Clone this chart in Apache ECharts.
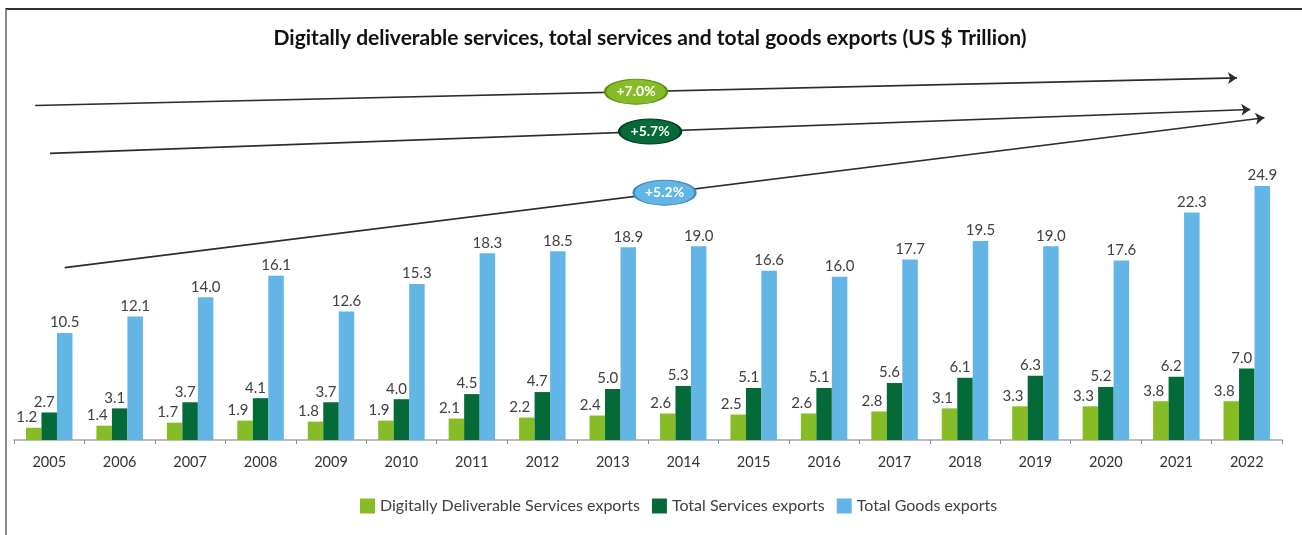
<!DOCTYPE html>
<html>
<head>
<meta charset="utf-8">
<title>Digitally deliverable services, total services and total goods exports</title>
<script src="https://cdn.jsdelivr.net/npm/echarts@6/dist/echarts.min.js"></script>
<style>
  html, body { margin: 0; padding: 0; background: #fff; overflow: hidden; }
  #chart { position: absolute; left: 0; top: 0; width: 1302px; height: 535px; }
  #frame {
    position: absolute; left: 5px; top: 8px; width: 1400px; height: 600px;
    border-top: 2px solid #2f2f2f; border-left: 2px solid #8a8a8a;
    pointer-events: none;
  }
</style>
</head>
<body>
<div id="chart"></div>
<div id="frame"></div>
<script>
// Export values, US $ trillion
const years = ['2005', '2006', '2007', '2008', '2009', '2010', '2011', '2012', '2013',
               '2014', '2015', '2016', '2017', '2018', '2019', '2020', '2021', '2022'];
const digitalServices = [1.2, 1.4, 1.7, 1.9, 1.8, 1.9, 2.1, 2.2, 2.4, 2.6, 2.5, 2.6, 2.8, 3.1, 3.3, 3.3, 3.8, 3.8];
const totalServices   = [2.7, 3.1, 3.7, 4.1, 3.7, 4.0, 4.5, 4.7, 5.0, 5.3, 5.1, 5.1, 5.6, 6.1, 6.3, 5.2, 6.2, 7.0];
const totalGoods      = [10.5, 12.1, 14.0, 16.1, 12.6, 15.3, 18.3, 18.5, 18.9, 19.0, 16.6, 16.0, 17.7, 19.5, 19.0, 17.6, 22.3, 24.9];
const seriesNames = ['Digitally Deliverable Services exports', 'Total Services exports', 'Total Goods exports'];

// Growth rates shown on the trend arrows
const growthLabels = ['+7.0%', '+5.7%', '+5.2%'];

// Trend arrow ends, in axis units (x: category index, y: US $ trillion)
const arrowFrom = [[-0.2, 32.8], [0.01, 28.1], [0.22, 16.9]];
const arrowTo   = [[16.86, 35.5], [17.05, 32.4], [17.25, 31.6]];

const colors = ['#86BC25', '#046A38', '#62B5E5'];
const badgeBorders = ['#5f8a19', '#023a1f', '#3a8cbf'];
const FONT = 'Lato, "Open Sans", sans-serif';

const chart = echarts.init(document.getElementById('chart'), null, { renderer: 'canvas' });

function barSeries(idx, values, dx) {
  return {
    name: seriesNames[idx],
    type: 'bar',
    data: values,
    barGap: '0%',
    barCategoryGap: '34%',
    itemStyle: { color: colors[idx] },
    label: {
      show: true,
      position: 'top',
      distance: 3,
      offset: [dx, 0],
      color: '#404040',
      fontFamily: FONT,
      fontSize: 15,
      formatter: p => p.value.toFixed(1)
    },
    z: 2
  };
}

const arrowData = arrowFrom.map((a, i) => ({ coords: [a, arrowTo[i]] }));
const badgeData = arrowFrom.map((a, i) => ({
  value: [(a[0] + arrowTo[i][0]) / 2, (a[1] + arrowTo[i][1]) / 2],
  name: growthLabels[i],
  itemStyle: { color: colors[i], borderColor: badgeBorders[i] }
}));

chart.setOption({
  animation: false,
  title: {
    text: 'Digitally deliverable services, total services and total goods exports (US $ Trillion)',
    left: 645,
    textAlign: 'center',
    top: 23,
    textStyle: { fontFamily: FONT, fontWeight: 'bold', fontSize: 21, color: '#111' }
  },
  legend: {
    data: seriesNames,
    left: 355,
    top: 493,
    icon: 'rect',
    itemWidth: 15,
    itemHeight: 15,
    itemGap: 12,
    textStyle: { fontFamily: FONT, fontSize: 16, color: '#404040' }
  },
  grid: { left: 14, right: 20, top: 32, bottom: 95, containLabel: false },
  xAxis: [
    {
      type: 'category',
      data: years,
      axisLine: { lineStyle: { color: '#a6a6a6', width: 1.5 } },
      axisTick: { show: true, interval: 0, length: 4, lineStyle: { color: '#8c8c8c' } },
      axisLabel: { interval: 0, margin: 15, color: '#333', fontFamily: FONT, fontSize: 14.5 }
    },
    { type: 'value', min: -0.5, max: 17.5, show: false }
  ],
  yAxis: { type: 'value', min: 0, max: 40, show: false },
  series: [
    barSeries(0, digitalServices, -7),
    barSeries(1, totalServices, -5),
    barSeries(2, totalGoods, 0),
    {
      type: 'lines',
      coordinateSystem: 'cartesian2d',
      xAxisIndex: 1,
      yAxisIndex: 0,
      symbol: ['none', 'arrow'],
      symbolSize: [0, 9],
      lineStyle: { color: '#2b2b2b', width: 1.6, opacity: 1, curveness: 0 },
      data: arrowData,
      z: 3,
      silent: true
    },
    {
      type: 'scatter',
      xAxisIndex: 1,
      yAxisIndex: 0,
      symbol: 'circle',
      symbolSize: [62, 25],
      itemStyle: { borderWidth: 1.5, opacity: 1 },
      label: {
        show: true,
        position: 'inside',
        formatter: p => p.name,
        color: '#fff',
        fontFamily: FONT,
        fontWeight: 'bold',
        fontSize: 14
      },
      data: badgeData,
      z: 4,
      silent: true
    }
  ]
});
</script>
</body>
</html>
